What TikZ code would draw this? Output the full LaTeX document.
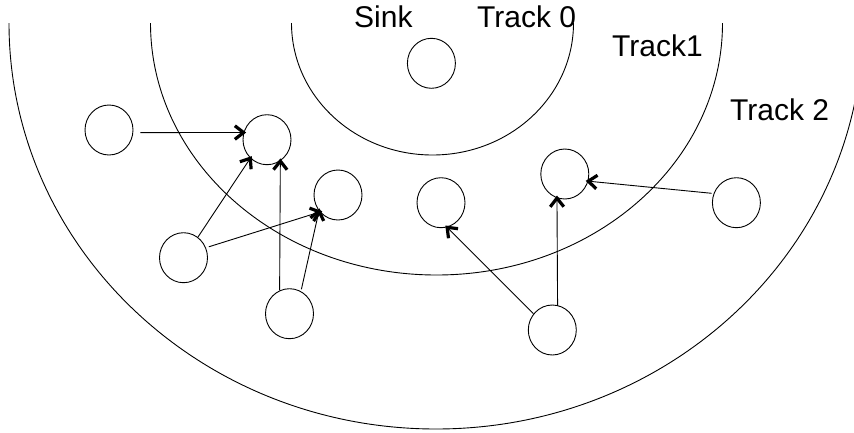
\documentclass[tikz,border=0pt]{standalone}
\usepackage{fontspec}
\setmainfont{Liberation Sans}
\usetikzlibrary{shapes.geometric,calc}
% a thin shaft from #2 to #3 ending in a bold open chevron; #1 trims the start
\newcommand\hoplink[3][0pt]{%
  \draw[link, shorten <=#1] (#2) -- (#3);
  \draw[tipstroke] ($(#3)!11pt!38:(#2)$) -- (#3) -- ($(#3)!11pt!-38:(#2)$);
}
\begin{document}
\begin{tikzpicture}[x=1pt,y=-1pt,
  track/.style={line width=0.9pt},
  sensor/.style={draw, ellipse, minimum width=48pt, minimum height=50pt, inner sep=0pt, line width=0.9pt},
  tipstroke/.style={line width=3.2pt, line join=miter, line cap=butt},
  link/.style={line width=0.9pt},
  lbl/.style={font=\fontsize{30}{36}\selectfont, anchor=base west, inner sep=0pt}]
\clip (0,0) rectangle (854,432);
% track boundaries (half ellipses around the sink)
\draw[track] (291.5,23) arc[start angle=180, end angle=0, x radius=141, y radius=132];
\draw[track] (150.5,23) arc[start angle=180, end angle=0, x radius=286, y radius=252];
\draw[track] (9,23) arc[start angle=180, end angle=0, x radius=427, y radius=406];
% labels
\node[lbl] (tsink) at (354,27.3) {Sink};
\node[lbl] (t0) at (477,27.3) {Track 0};
\node[lbl] (t1) at (612,56) {Track1};
\node[lbl] (t2) at (730,120) {Track 2};
% nodes
\node[sensor] (sink) at (431.4,63.3) {};
\node[sensor] (a) at (109,130) {};
\node[sensor] (b) at (267,139.7) {};
\node[sensor] (c) at (338,195) {};
\node[sensor] (d) at (183.5,257.7) {};
\node[sensor] (e) at (289.5,313.7) {};
\node[sensor] (f) at (441,202.7) {};
\node[sensor] (g) at (564.8,174) {};
\node[sensor] (h) at (736.4,202.7) {};
\node[sensor] (i) at (552.3,330) {};
% forwarding links
\hoplink[7pt]{a.-6}{b.163}
\hoplink{d.55}{b.228}
\hoplink[3pt]{d.24}{c.223}
\hoplink{e.113}{b.302}
\hoplink[2pt]{e.63}{c.220}
\hoplink{i.139}{f.284}
\hoplink{i.78}{g.252}
\hoplink[2pt]{h.158}{g.343}
\end{tikzpicture}
\end{document}
